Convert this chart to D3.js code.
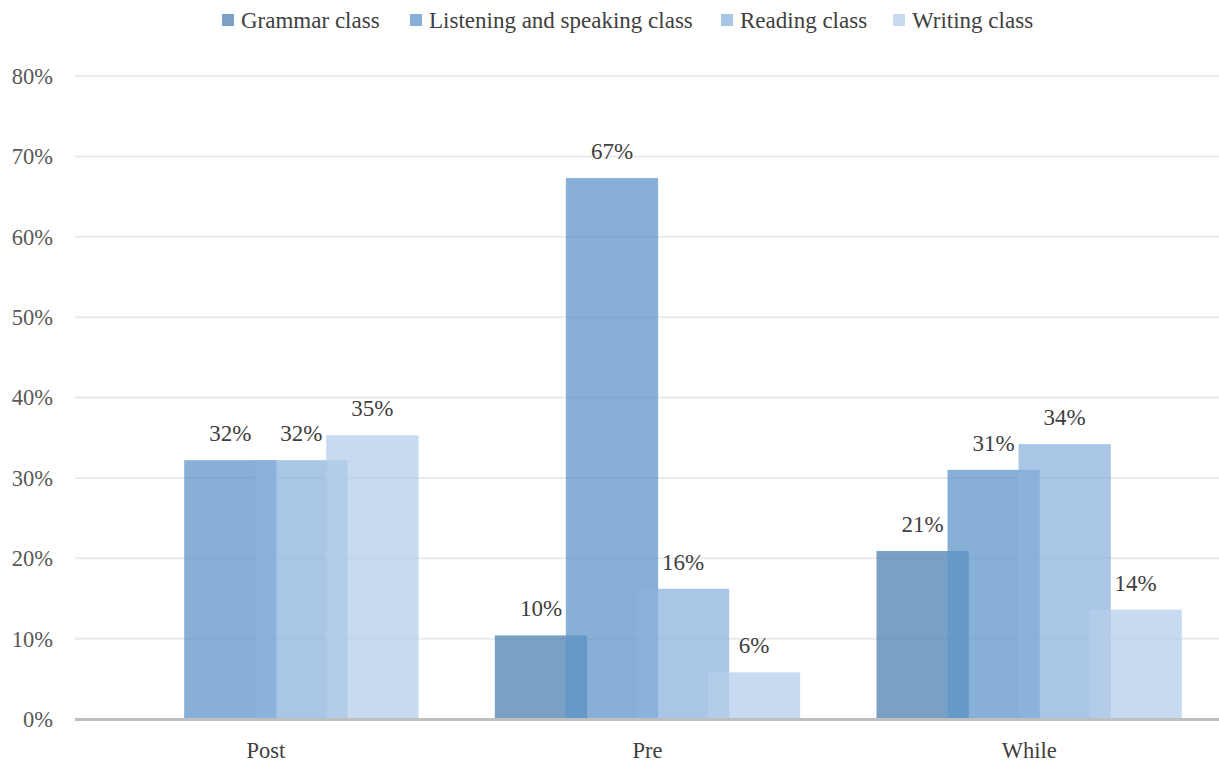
<!DOCTYPE html>
<html>
<head>
<meta charset="utf-8">
<script src="https://cdn.jsdelivr.net/npm/d3@7"></script>
<style>
  html, body { margin: 0; padding: 0; background: #fff; }
  svg { display: block; font-family: "Liberation Serif", "Times New Roman", serif; }
</style>
</head>
<body>
<svg id="chart" width="1219" height="764"></svg>
<script>
// Share of students by phase and class type
const phases = ["Post", "Pre", "While"];
const series = ["Grammar class", "Listening and speaking class", "Reading class", "Writing class"];
const grammar   = [0,    10.4, 20.9];
const listening = [32.2, 67.3, 31.0];
const reading   = [32.2, 16.2, 34.2];
const writing   = [35.3, 5.8,  13.6];
const labels = {
  "Grammar class": [null, "10%", "21%"],
  "Listening and speaking class": ["32%", "67%", "31%"],
  "Reading class": ["32%", "16%", "34%"],
  "Writing class": ["35%", "6%", "14%"]
};
const yTicks = [0, 10, 20, 30, 40, 50, 60, 70, 80];
const colors = ["#4e80b0", "#6096c9", "#8cb3df", "#b6cde9"];

const values = [grammar, listening, reading, writing];

const svg = d3.select("#chart");
const plotL = 75, plotR = 1220, plotT = 76, plotB = 719;

const x = d3.scaleBand().domain(phases).range([plotL, plotR]).paddingInner(0.2).paddingOuter(0.1);
const y = d3.scaleLinear().domain([0, 80]).range([plotB, plotT]);

// gridlines
svg.append("g").selectAll("line").data(yTicks.filter(t => t > 0)).join("line")
  .attr("x1", plotL).attr("x2", plotR)
  .attr("y1", d => y(d)).attr("y2", d => y(d))
  .attr("stroke", "#ebebeb").attr("stroke-width", 2);

// y tick labels
svg.append("g").selectAll("text").data(yTicks).join("text")
  .attr("x", 53).attr("y", d => y(d)).attr("dy", "0.35em")
  .attr("text-anchor", "end")
  .attr("font-size", 22.5).attr("fill", "#595959")
  .text(d => d + "%");

// overlapping bars: each bar 1.3x its slot width
const slot = x.bandwidth() / (series.length + 0.3);
const barW = slot * 1.3;
const barX = (pi, si) => x(phases[pi]) + si * slot;

series.forEach((s, si) => {
  const g = svg.append("g");
  g.selectAll("rect").data(values[si]).join("rect")
    .attr("x", (d, i) => barX(i, si))
    .attr("y", d => y(d))
    .attr("width", barW)
    .attr("height", d => plotB - y(d))
    .attr("fill", colors[si])
    .attr("fill-opacity", 0.75);
});

// data labels
series.forEach((s, si) => {
  svg.append("g").selectAll("text").data(values[si]).join("text")
    .attr("x", (d, i) => barX(i, si) + barW / 2)
    .attr("y", d => y(d) - 19)
    .attr("text-anchor", "middle")
    .attr("font-size", 23).attr("fill", "#404040")
    .text((d, i) => labels[s][i] || "");
});

// baseline
svg.append("line").attr("x1", plotL).attr("x2", plotR)
  .attr("y1", plotB + 0.5).attr("y2", plotB + 0.5)
  .attr("stroke", "#bfbfbf").attr("stroke-width", 3);

// category axis labels
svg.append("g").selectAll("text").data(phases).join("text")
  .attr("x", d => x(d) + x.bandwidth() / 2)
  .attr("y", 758)
  .attr("text-anchor", "middle")
  .attr("font-size", 22.5).attr("fill", "#404040")
  .text(d => d);

// legend
const legendX = [222, 410, 721, 893];
const lg = svg.append("g").selectAll("g").data(series).join("g")
  .attr("transform", (d, i) => `translate(${legendX[i]},20)`);
lg.append("rect").attr("x", 0).attr("y", -6).attr("width", 12).attr("height", 12)
  .attr("fill", (d, i) => colors[i]).attr("fill-opacity", 0.75);
lg.append("text").attr("x", 19).attr("y", 0).attr("dy", "0.35em")
  .attr("font-size", 23).attr("fill", "#404040")
  .text(d => d);
</script>
</body>
</html>
